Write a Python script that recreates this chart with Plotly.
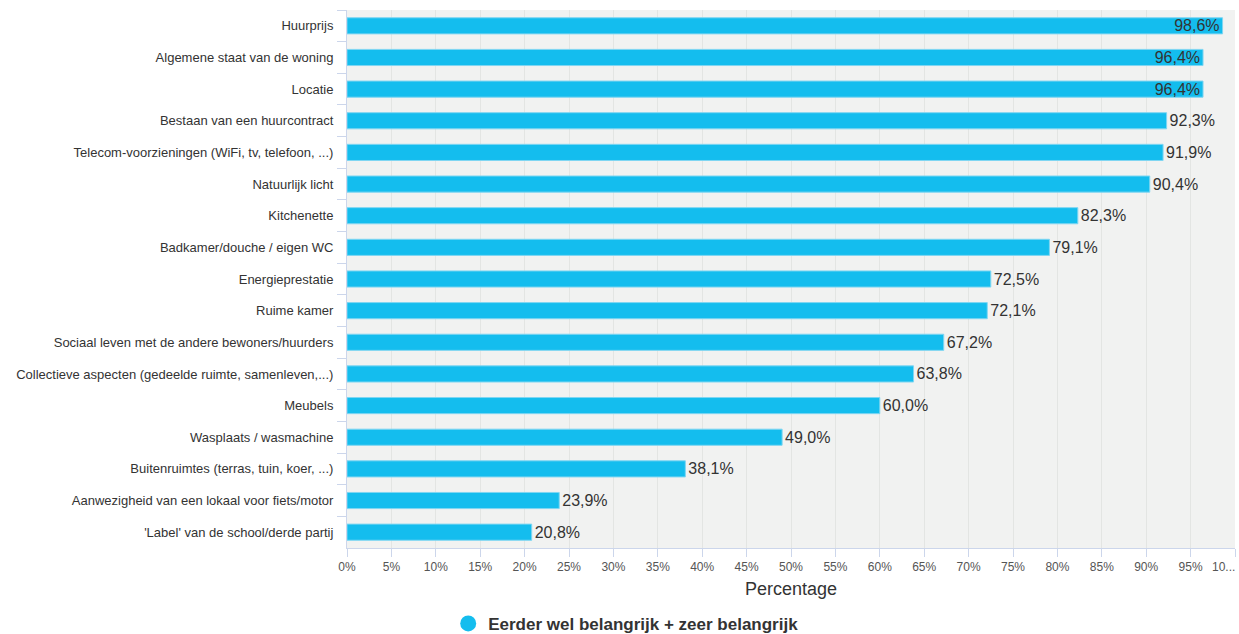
import plotly.graph_objects as go

categories = [
    "Huurprijs",
    "Algemene staat van de woning",
    "Locatie",
    "Bestaan van een huurcontract",
    "Telecom-voorzieningen (WiFi, tv, telefoon, ...)",
    "Natuurlijk licht",
    "Kitchenette",
    "Badkamer/douche / eigen WC",
    "Energieprestatie",
    "Ruime kamer",
    "Sociaal leven met de andere bewoners/huurders",
    "Collectieve aspecten (gedeelde ruimte, samenleven,...)",
    "Meubels",
    "Wasplaats / wasmachine",
    "Buitenruimtes (terras, tuin, koer, ...)",
    "Aanwezigheid van een lokaal voor fiets/motor",
    "'Label' van de school/derde partij",
]
values = [98.6, 96.4, 96.4, 92.3, 91.9, 90.4, 82.3, 79.1, 72.5, 72.1, 67.2, 63.8, 60.0, 49.0, 38.1, 23.9, 20.8]
series_name = "Eerder wel belangrijk + zeer belangrijk"
tick_vals = list(range(0, 96, 5))
tick_text = [f"{v}%" for v in tick_vals]
last_tick_value = 100
last_tick_text = "10..."

labels = [f"{v:.1f}".replace(".", ",") + "%" for v in values]
positions = ["inside" if v > 95 else "outside" for v in values]

BAR = "#14bdee"
AXC = "#ccd6eb"
FONT = "Arial, Liberation Sans, sans-serif"

fig = go.Figure()
fig.add_trace(go.Bar(
    y=categories, x=values, orientation="h",
    marker=dict(color=BAR, line=dict(color="#7fd6f2", width=1)),
    text=labels, textposition=positions,
    insidetextanchor="end",
    textfont=dict(family=FONT, size=16, color="#333333"),
    insidetextfont=dict(family=FONT, size=16, color="#333333"),
    outsidetextfont=dict(family=FONT, size=16, color="#333333"),
    constraintext="none", cliponaxis=False,
    showlegend=False, hoverinfo="x+y",
))
fig.add_trace(go.Scatter(
    x=[None], y=[None], mode="markers", name=series_name,
    marker=dict(color=BAR, size=17, symbol="circle"),
))

fig.update_layout(
    width=1239, height=634,
    margin=dict(l=347, r=4, t=10, b=86),
    paper_bgcolor="white", plot_bgcolor="#f1f2f1",
    bargap=0.49,
    font=dict(family=FONT, color="#333333"),
    showlegend=True,
    legend=dict(orientation="h", xref="container", x=0.505, xanchor="center",
                yref="container", y=0.016, yanchor="middle",
                font=dict(family=FONT, size=17, color="#333333", weight="bold"),
                itemsizing="trace"),
    xaxis=dict(
        range=[0, 100], tickvals=tick_vals + [last_tick_value], ticktext=tick_text + [""],
        showgrid=True, gridcolor="#e3e5e3", gridwidth=1,
        showline=True, linecolor=AXC, linewidth=1,
        ticks="outside", ticklen=8, tickcolor=AXC, ticklabelstandoff=0,
        tickfont=dict(family=FONT, size=12, color="#555555"),
        title=dict(text="Percentage", font=dict(family=FONT, size=18, color="#333333"), standoff=8),
        zeroline=False, fixedrange=True,
    ),
    yaxis=dict(
        autorange="reversed",
        ticks="outside", ticklen=9, tickcolor=AXC, tickson="boundaries",
        ticklabelstandoff=10,
        tickfont=dict(family=FONT, size=13, color="#333333"),
        showline=True, linecolor=AXC, linewidth=1,
        showgrid=False, fixedrange=True,
    ),
    annotations=[dict(
        x=last_tick_value, xref="x", y=0, yref="paper", yanchor="top", yshift=-10,
        xanchor="right", xshift=2, text=last_tick_text, showarrow=False,
        font=dict(family=FONT, size=12, color="#555555"),
    )],
)

fig.write_html("out.html", config={"displayModeBar": False},
               post_script="document.body.style.margin='0';document.body.style.overflow='hidden';")
